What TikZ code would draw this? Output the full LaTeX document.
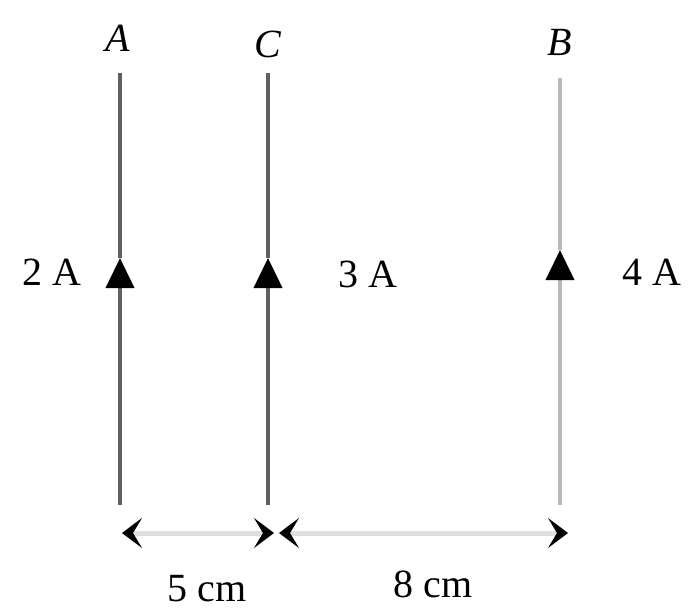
\documentclass[tikz,border=0pt]{standalone}
\usepackage{fontspec}
\setmainfont{Liberation Serif}
\usetikzlibrary{arrows.meta}
\begin{document}
\begin{tikzpicture}[x=1pt,y=-1pt,
  lbl/.style={font=\fontsize{40}{42}\selectfont, inner sep=0pt},
  ilbl/.style={font=\fontsize{40}{42}\selectfont\itshape, inner sep=0pt},
  wire/.style={line width=4pt},
  tip/.style={-{Triangle[length=30pt,width=28pt,black]}},
  dim/.style={line width=5pt, gray!25, {Stealth[length=20pt,width=30pt,inset=9pt,black]}-{Stealth[length=20pt,width=30pt,inset=9pt,black]}, shorten <=-2pt, shorten >=-2pt}]
\useasboundingbox (0,0) rectangle (689,614);
% wires
\coordinate (a0) at (120,505); \coordinate (am) at (120,258); \coordinate (a1) at (120,73);
\coordinate (c0) at (268,505); \coordinate (cm) at (268,258); \coordinate (c1) at (268,73);
\coordinate (b0) at (560,505); \coordinate (bm) at (560,250); \coordinate (b1) at (560,78);
\node[ilbl] (A) at (118,38) {A};
\node[ilbl] (C) at (268,44) {C};
\node[ilbl] (B) at (560,42) {B};
\draw[wire, gray!75!black, tip] (a0) -- (am);
\draw[wire, gray!75!black] (am) -- (a1);
\draw[wire, gray!75!black, tip] (c0) -- (cm);
\draw[wire, gray!75!black] (cm) -- (c1);
\draw[wire, gray!55, tip] (b0) -- (bm);
\draw[wire, gray!55] (bm) -- (b1);
\node[lbl] (i2) at (52,272) {2 A};
\node[lbl] (i3) at (368,274) {3 A};
\node[lbl] (i4) at (652,272) {4 A};
% dimensions
\coordinate (d1) at (124,533); \coordinate (d2) at (272,533);
\coordinate (d3) at (281,533); \coordinate (d4) at (566,533);
\draw[dim] (d1) -- (d2);
\draw[dim] (d3) -- (d4);
\node[lbl] (l5) at (207,589) {5 cm};
\node[lbl] (l8) at (433,584) {8 cm};
\end{tikzpicture}
\end{document}
